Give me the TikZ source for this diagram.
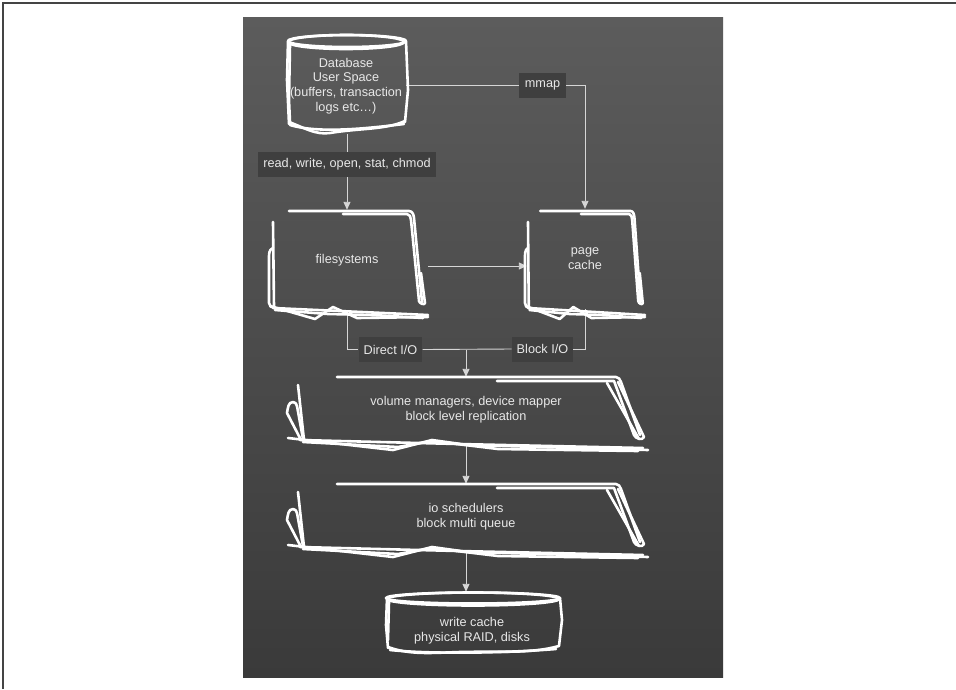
\documentclass[tikz,border=0pt]{standalone}
\usepackage{fontspec}
\setmainfont{Liberation Sans}
\usetikzlibrary{arrows.meta}

\definecolor{paneltop}{HTML}{5C5C5C}
\definecolor{panelbot}{HTML}{3A3A3A}
\definecolor{labelbg}{HTML}{3F3F3F}
\definecolor{txt}{HTML}{E8E8E8}
\definecolor{wire}{HTML}{D6D6D6}
\definecolor{framecol}{HTML}{444444}

\tikzset{
  sketch/.style={draw=white, line width=2.6pt, line cap=round, line join=round},
  layer/.style={draw=none, text=txt, align=center, inner sep=0pt,
    font=\fontsize{12.7}{14.8}\selectfont},
  tag/.style={fill=labelbg, text=txt, inner xsep=5pt, inner ysep=0pt,
    minimum height=25pt, font=\fontsize{12.7}{14.8}\selectfont},
  conn/.style={draw=wire, line width=0.9pt},
  arr/.style={conn, -{Triangle[length=8pt,width=7pt,fill=wire]}},
}

% hand-drawn outline of a small layer box (origin at its left edge / top line)
\newcommand\sketchsmall[3]{%
  \begin{scope}[shift={(#1,#2)}, xscale=#3]
    \draw[sketch] (16,0) -- (136,0) to[out=0,in=95] (141,7) -- (149,91);
    \draw[sketch] (70,3) -- (134,3) to[out=0,in=95] (138,9) -- (146,90)
      to[out=-85,in=-95] (152,92) -- (148,62);
    \draw[sketch] (0,11) -- (1,96);
    \draw[sketch] (0,37) to[out=200,in=90] (-4,48) -- (-4,92)
      to[out=-90,in=180] (2,97);
    \draw[sketch] (-3,95) -- (42,108) -- (60,96) -- (84,107) -- (155,106);
    \draw[sketch] (0,97) -- (155,104);
    \draw[sketch] (2,99) -- (55,103) -- (100,104) -- (150,107);
  \end{scope}}

% hand-drawn outline of a wide layer box
\newcommand\sketchwide[2]{%
  \begin{scope}[shift={(#1,#2)}]
    \draw[sketch] (39,0) -- (318,0) to[out=0,in=115] (323,5) -- (342,58);
    \draw[sketch] (199,4) -- (316,4) -- (336,58) to[out=-70,in=-110] (346,60)
      -- (320,5);
    \draw[sketch] (309,6) -- (341,62);
    \draw[sketch] (0,8) -- (6,63);
    \draw[sketch] (-1,29) to[out=100,in=0] (-5,25) to[out=180,in=80] (-11,36)
      -- (3,63);
    \draw[sketch] (-1,29) -- (5,62);
    \draw[sketch] (-10,61) -- (95,73) -- (134,63) -- (170,68) -- (350,73);
    \draw[sketch] (2,63) -- (160,67) -- (345,71);
    \draw[sketch] (5,65) -- (100,70) -- (134,64) -- (200,72) -- (340,74);
  \end{scope}}

\begin{document}
\begin{tikzpicture}[x=1pt, y=-1pt]
  % page and frame
  \fill[white] (0,0) rectangle (956,689);
  \useasboundingbox (0,0) rectangle (956,689);
  \draw[framecol, line width=1.4pt] (3,689) -- (3,3) -- (956,3);

  % dark board
  \shade[top color=paneltop, bottom color=panelbot] (243,17) rectangle (723,677);

  % layer texts
  \node[layer, minimum width=120pt, minimum height=96pt] (db) at (346,86)
    {Database\\User Space\\(buffers, transaction\\logs etc…)};
  \node[tag] (rw) at (347,164.5) {read, write, open, stat, chmod};
  \node[tag, inner xsep=6pt] (mm) at (542.5,85) {mmap};
  \node[layer, minimum width=150pt, minimum height=100pt] (fs) at (347,260) {filesystems};
  \node[layer, minimum width=116pt, minimum height=100pt] (pc) at (585,259) {page\\cache};
  \node[tag] (dio) at (390.5,349.5) {Direct I/O};
  \node[tag] (bio) at (542.5,349) {Block I/O};
  \node[layer, minimum width=350pt, minimum height=66pt] (vm) at (466,410)
    {volume managers, device mapper\\block level replication};
  \node[layer, minimum width=350pt, minimum height=66pt] (io) at (466,517)
    {io schedulers\\block multi queue};
  \node[layer, minimum width=176pt, minimum height=78pt] (wc) at (472,631)
    {write cache\\physical RAID, disks};

  % connectors
  \draw[conn] (rw.north |- db.south) -- (rw.north);
  \draw[arr] (rw.south) -- (fs.north);
  \draw[conn] (mm.west -| db.east) -- (mm.west);
  \draw[arr] (mm.east) -| (pc.north);
  \coordinate (fsout) at ([xshift=6pt,yshift=-6pt]fs.east);
  \draw[arr] (fsout) -- (fsout -| pc.west);
  \draw[conn] (fs.south) |- (dio.west);
  \draw[conn] (dio.east) -- (bio.west);
  \draw[conn] (bio.east) -| (pc.south);
  \draw[arr] (dio.east -| vm.north) -- (vm.north);
  \draw[arr] (vm.south) -- (io.north);
  \draw[arr] (io.south) -- (io.south |- wc.north);

  % database drum
  \draw[sketch] (347,41) ellipse [x radius=59, y radius=6];
  \draw[sketch] (346,42) ellipse [x radius=58, y radius=7];
  \draw[sketch] (288,41) -- (287,80) -- (289,124);
  \draw[sketch] (290,45) -- (289,100) -- (290,122);
  \draw[sketch] (406,41) -- (408,90) -- (405,122);
  \draw[sketch] (289,122) .. controls (305,128) and (315,135) .. (330,133)
    .. controls (360,128) and (385,130) .. (405,121);
  \draw[sketch] (290,125) .. controls (320,134) and (370,128) .. (404,124);

  % layer boxes
  \sketchsmall{273}{211}{1}
  \sketchsmall{528}{211}{0.755}
  \sketchwide{298}{377}
  \sketchwide{298}{484}

  % disk drum
  \draw[sketch] (473,598) ellipse [x radius=87, y radius=5.5];
  \draw[sketch] (473,599) ellipse [x radius=86, y radius=6.5];
  \draw[sketch] (387,598) -- (386,625) -- (388,648);
  \draw[sketch] (389,602) -- (388,640);
  \draw[sketch] (560,598) -- (562,620) -- (559,646);
  \draw[sketch] (388,647) .. controls (410,655) and (430,653) .. (460,652)
    .. controls (500,651) and (530,654) .. (559,646);
  \draw[sketch] (390,650) .. controls (440,655) and (520,652) .. (556,649);
\end{tikzpicture}
\end{document}
